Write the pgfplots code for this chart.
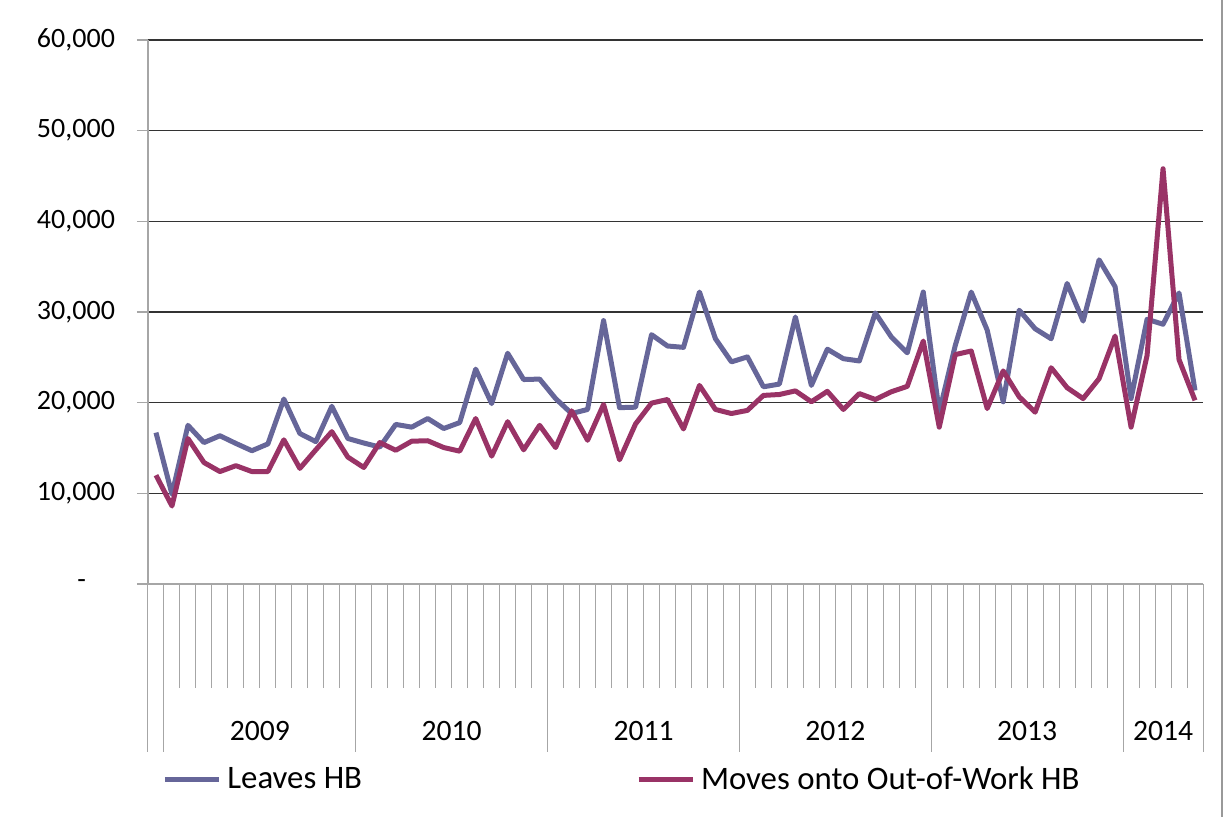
\documentclass[border=0pt]{standalone}
\usepackage{pgfplots}
\pgfplotsset{compat=1.18}
\usepackage{fontspec}
\setmainfont{Carlito}
\definecolor{leaves}{HTML}{666699}
\definecolor{moves}{HTML}{993366}
\begin{document}
\begin{tikzpicture}
\path[use as bounding box] (-74pt,-116.5pt) rectangle (539pt,292pt);
\draw[gray!80, line width=0.6pt] (537pt,-116.5pt) -- (537pt,292pt);
\begin{axis}[
  at={(0pt,0pt)}, anchor=south west, scale only axis,
  width=527.5pt, height=272pt,
  xmin=-0.5, xmax=65.5, ymin=0, ymax=60000,
  clip=false,
  axis lines*=left,
  axis line style={draw=gray!70, line width=0.6pt},
  xtick=\empty,
  ytick={0,10000,20000,30000,40000,50000,60000},
  yticklabels={{-\kern14.5pt},{10,000},{20,000},{30,000},{40,000},{50,000},{60,000}},
  scaled y ticks=false,
  /pgf/number format/assume math mode=true,
  yticklabel style={font=\fontsize{14}{16}\selectfont, xshift=-7.5pt},
  ymajorgrids, major grid style={black!80, line width=0.7pt},
  y tick style={gray!70, line width=0.6pt},
  tick align=outside, major tick length=5.5pt,
  legend columns=2,
  legend cell align=left,
  legend style={draw=none, fill=none, inner sep=0pt,
    at={(axis description cs:0.0133,-0.3600)}, anchor=west,
    font=\fontsize{16.4}{19}\selectfont,
    nodes={inner xsep=3pt, inner ysep=1pt},
    /tikz/every even column/.append style={column sep=134pt}},
  legend image code/.code={\draw[#1] (0pt,0pt) -- (27pt,0pt);},
]
\addplot[leaves, line width=2.5pt, line join=round] coordinates {
(0,16700) (1,9900) (2,17500) (3,15600) (4,16350) (5,15500) (6,14700) (7,15450)
(8,20400) (9,16600) (10,15700) (11,19600) (12,16050) (13,15550) (14,15100) (15,17600)
(16,17300) (17,18250) (18,17150) (19,17800) (20,23700) (21,19900) (22,25450) (23,22550)
(24,22600) (25,20450) (26,18800) (27,19250) (28,29050) (29,19450) (30,19500) (31,27500)
(32,26250) (33,26100) (34,32200) (35,27050) (36,24500) (37,25050) (38,21750) (39,22050)
(40,29450) (41,21900) (42,25900) (43,24850) (44,24600) (45,29900) (46,27250) (47,25500)
(48,32200) (49,18950) (50,26300) (51,32200) (52,28000) (53,20100) (54,30200) (55,28150)
(56,27050) (57,33150) (58,29000) (59,35750) (60,32800) (61,20450) (62,29200) (63,28650)
(64,32100) (65,21350)
};
\addlegendentry{Leaves HB}
\addplot[moves, line width=2.5pt, line join=round] coordinates {
(0,12000) (1,8600) (2,16050) (3,13400) (4,12400) (5,13050) (6,12400) (7,12400)
(8,15900) (9,12750) (10,14800) (11,16800) (12,14000) (13,12850) (14,15600) (15,14750)
(16,15750) (17,15800) (18,15050) (19,14650) (20,18250) (21,14100) (22,17900) (23,14800)
(24,17500) (25,15050) (26,19100) (27,15850) (28,19800) (29,13700) (30,17650) (31,19950)
(32,20350) (33,17100) (34,21900) (35,19250) (36,18800) (37,19150) (38,20800) (39,20900)
(40,21300) (41,20100) (42,21250) (43,19250) (44,21000) (45,20350) (46,21200) (47,21800)
(48,26800) (49,17300) (50,25300) (51,25700) (52,19350) (53,23500) (54,20650) (55,18950)
(56,23850) (57,21650) (58,20450) (59,22650) (60,27350) (61,17300) (62,25200) (63,45800)
(64,24750) (65,20250)
};
\addlegendentry{Moves onto Out-of-Work HB}
\pgfplotsinvokeforeach{-0.5,0.5,...,65.5}{
  \draw[gray!70, line width=0.5pt] (axis cs:#1,0) -- ++(0pt,-52pt);
}
\pgfplotsinvokeforeach{-0.5,0.5,12.5,24.5,36.5,48.5,60.5,65.5}{
  \draw[gray!70, line width=0.5pt] (axis cs:#1,0) -- ++(0pt,-84pt);
}
\node[font=\fontsize{14.8}{17}\selectfont] at (axis cs:6.5,0) [yshift=-73.5pt] {2009};
\node[font=\fontsize{14.8}{17}\selectfont] at (axis cs:18.5,0) [yshift=-73.5pt] {2010};
\node[font=\fontsize{14.8}{17}\selectfont] at (axis cs:30.5,0) [yshift=-73.5pt] {2011};
\node[font=\fontsize{14.8}{17}\selectfont] at (axis cs:42.5,0) [yshift=-73.5pt] {2012};
\node[font=\fontsize{14.8}{17}\selectfont] at (axis cs:54.5,0) [yshift=-73.5pt] {2013};
\node[font=\fontsize{14.8}{17}\selectfont] at (axis cs:63,0) [yshift=-73.5pt] {2014};
\end{axis}
\end{tikzpicture}
\end{document}
